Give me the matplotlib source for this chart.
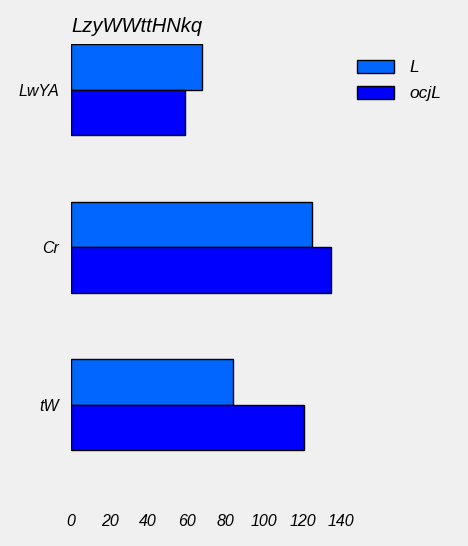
import matplotlib
matplotlib.use("Agg")
import matplotlib.pyplot as plt
import numpy as np

plt.rcParams['font.family'] = ['Liberation Sans', 'DejaVu Sans']
plt.rcParams['font.style'] = 'italic'

categories = ["LwYA", "Cr", "tW"]
series_names = ["L", "ocjL"]
L_values = [68, 125, 84]
ocjL_values = [59, 135, 121]
xticks = [0, 20, 40, 60, 80, 100, 120, 140]
title = "LzyWWttHNkq"

W, H = 468, 546
fig = plt.figure(figsize=(W / 100, H / 100), dpi=100, facecolor='#f0f0f0')
left, right, top, bottom = 71, 341, 44, 490
ax = fig.add_axes([left / W, 1 - bottom / H, (right - left) / W, (bottom - top) / H])
ax.set_facecolor('#f0f0f0')

y = np.arange(len(categories))
h = 0.29
ax.barh(y - h / 2, L_values, height=h, color='#0066ff', edgecolor='black', linewidth=1, label=series_names[0])
ax.barh(y + h / 2, ocjL_values, height=h, color='#0000ff', edgecolor='black', linewidth=1, label=series_names[1])

ax.set_xlim(0, 140)
ytop = -h
ybot = ytop + (bottom - top) / 157.5
ax.set_ylim(ybot, ytop)
ax.set_yticks(y)
ax.set_yticklabels(categories, fontsize=11.5, style='italic')
ax.set_xticks(xticks)
ax.set_xticklabels([str(v) for v in xticks], fontsize=11.5, style='italic')
ax.tick_params(axis='both', length=0)
ax.tick_params(axis='y', pad=8.5)
ax.tick_params(axis='x', pad=17)
for s in ax.spines.values():
    s.set_visible(False)

ax.set_title(title, loc='left', fontsize=14.5, style='italic', pad=9)

fig.legend(loc='upper left', bbox_to_anchor=(357 / W, 1 - 60 / H), bbox_transform=fig.transFigure,
           frameon=False, borderaxespad=0, borderpad=0,
           handlelength=2.15, handleheight=0.75, handletextpad=0.85, labelspacing=0.6,
           prop={'style': 'italic', 'size': 12.5})

fig.savefig("out.png", dpi=100, facecolor=fig.get_facecolor())
